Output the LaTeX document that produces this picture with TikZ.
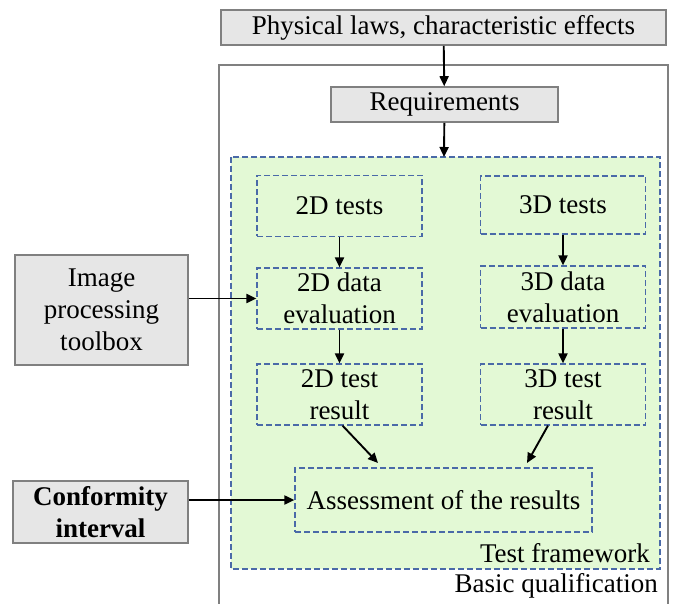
\documentclass[tikz,border=0pt]{standalone}
\usepackage{fontspec}
\setmainfont{Liberation Serif}[Ligatures=TeX]
\usetikzlibrary{arrows.meta}

\definecolor{boxgray}{HTML}{E6E6E6}
\definecolor{linegray}{HTML}{808080}
\definecolor{framegreen}{HTML}{E3F9D5}
\definecolor{dashblue}{HTML}{4A6AA8}

\tikzset{
  graybox/.style={draw=linegray, line width=1.6pt, fill=boxgray, font=\fontsize{27}{32}\selectfont, inner sep=0pt, align=center},
  testbox/.style={draw=dashblue, dash pattern=on 6pt off 3pt, line width=1.2pt, font=\fontsize{27}{32}\selectfont, inner sep=0pt, align=center, minimum width=165pt, minimum height=61pt},
  flow/.style={-{Triangle[length=10pt,width=9pt]}, line width=1.9pt}
}

\begin{document}
\begin{tikzpicture}[x=1pt,y=-1pt]
\useasboundingbox (0,0) rectangle (675,604);

% outer box, open at the bottom
\draw[linegray, line width=1.6pt] (219,604) -- (219,65) -- (668,65) -- (668,604);
\node[anchor=base east, font=\fontsize{27}{32}\selectfont, inner sep=0pt] (basic) at (658,592) {Basic qualification};

% test framework
\draw[dashblue, dash pattern=on 6pt off 3pt, line width=1.2pt, fill=framegreen] (231,157) rectangle (660,569);
\coordinate (frametop) at (444,157);
\node[anchor=base east, font=\fontsize{27}{32}\selectfont, inner sep=0pt] (frame) at (650,562) {Test framework};

% gray boxes
\node[graybox, minimum width=445pt, minimum height=35pt] (laws) at (443.5,27.5) {Physical laws, characteristic effects};
\node[graybox, minimum width=227pt, minimum height=35pt] (req) at (444.5,104.5) {Requirements};
\node[graybox, minimum width=173pt, minimum height=110pt] (toolbox) at (101.5,310) {Image\\processing\\toolbox};
\node[graybox, minimum width=175pt, minimum height=62pt, font=\fontsize{27}{32}\selectfont\bfseries] (conf) at (100.5,512) {Conformity\\interval};

% dashed test boxes
\node[testbox] (test2d) at (339.5,206) {2D tests};
\node[testbox, minimum height=58pt] (test3d) at (563,205) {3D tests};
\node[testbox] (eval2d) at (339.5,298.5) {2D data\\evaluation};
\node[testbox, minimum height=62pt] (eval3d) at (563,297) {3D data\\evaluation};
\node[testbox] (res2d) at (339.5,394.5) {2D test\\result};
\node[testbox] (res3d) at (563,394.5) {3D test\\result};
\node[testbox, minimum width=297pt, minimum height=64pt] (assess) at (443.5,500) {Assessment of the results};

% arrow ends above the assessment box
\coordinate (in2d) at (378,463);
\coordinate (in3d) at (527,463);

% arrows
\draw[flow] (laws) -- (req);
\draw[flow] (req) -- (frametop);
\draw[flow] (test2d) -- (eval2d);
\draw[flow] (eval2d) -- (res2d);
\draw[flow] (test3d) -- (eval3d);
\draw[flow] (eval3d) -- (res3d);
\draw[flow] ([xshift=3pt]res2d.south) -- (in2d);
\draw[flow] ([xshift=-15pt]res3d.south) -- (in3d);
\draw[flow] (toolbox.east |- eval2d.west) -- (eval2d.west);
\draw[flow] (conf.east |- assess.west) -- (assess.west);

\end{tikzpicture}
\end{document}
